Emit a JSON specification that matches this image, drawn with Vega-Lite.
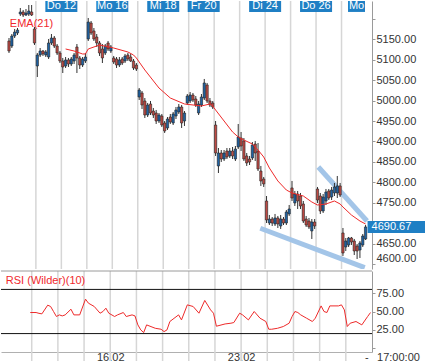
{
"$schema": "https://vega.github.io/schema/vega-lite/v6.json",
"padding": 0,
"background": "white",
"spacing": 0,
"config": {"view": {"stroke": null}, "font": "Liberation Sans", "axis": {"labelFontSize": 11, "labelColor": "#333333", "domainColor": "#9a9a9a", "tickColor": "#9a9a9a", "grid": false, "labelOverlap": false}},
"resolve": {"scale": {"x": "independent", "y": "independent"}},
"datasets": {
"candles": [
{"i":-1,"o":5145.9,"h":5153.2,"l":5116.5,"c":5121.4},
{"i":0,"o":5133.6,"h":5163.0,"l":5128.7,"c":5158.1},
{"i":1,"o":5158.1,"h":5175.3,"l":5153.2,"c":5167.9},
{"i":2,"o":5165.5,"h":5177.7,"l":5160.6,"c":5172.8},
{"i":3,"o":5212.0,"h":5226.7,"l":5207.1,"c":5216.9},
{"i":4,"o":5216.9,"h":5221.8,"l":5204.6,"c":5209.5},
{"i":5,"o":5209.5,"h":5224.2,"l":5207.1,"c":5214.4},
{"i":6,"o":5212.0,"h":5234.0,"l":5207.1,"c":5219.3},
{"i":7,"o":5216.9,"h":5234.0,"l":5207.1,"c":5209.5},
{"i":8,"o":5175.3,"h":5180.2,"l":5136.1,"c":5141.0},
{"i":9,"o":5084.7,"h":5116.5,"l":5057.7,"c":5111.6},
{"i":10,"o":5111.6,"h":5128.7,"l":5106.7,"c":5121.4},
{"i":11,"o":5121.4,"h":5123.8,"l":5109.2,"c":5114.1},
{"i":12,"o":5111.6,"h":5123.8,"l":5106.7,"c":5119.0},
{"i":13,"o":5106.7,"h":5150.8,"l":5101.8,"c":5141.0},
{"i":14,"o":5141.0,"h":5163.0,"l":5136.1,"c":5153.2},
{"i":15,"o":5153.2,"h":5158.1,"l":5128.7,"c":5133.6},
{"i":16,"o":5133.6,"h":5138.5,"l":5111.6,"c":5116.5},
{"i":17,"o":5116.5,"h":5121.4,"l":5092.0,"c":5096.9},
{"i":18,"o":5096.9,"h":5104.3,"l":5067.5,"c":5082.2},
{"i":19,"o":5084.7,"h":5106.7,"l":5079.8,"c":5099.4},
{"i":20,"o":5099.4,"h":5104.3,"l":5082.2,"c":5089.6},
{"i":21,"o":5089.6,"h":5106.7,"l":5084.7,"c":5101.8},
{"i":22,"o":5096.9,"h":5116.5,"l":5089.6,"c":5111.6},
{"i":23,"o":5131.2,"h":5138.5,"l":5067.5,"c":5104.3},
{"i":24,"o":5104.3,"h":5109.2,"l":5077.3,"c":5087.1},
{"i":25,"o":5087.1,"h":5106.7,"l":5082.2,"c":5101.8},
{"i":26,"o":5096.9,"h":5116.5,"l":5092.0,"c":5106.7},
{"i":27,"o":5150.8,"h":5202.2,"l":5145.9,"c":5192.4},
{"i":28,"o":5189.9,"h":5194.8,"l":5160.6,"c":5165.5},
{"i":29,"o":5170.4,"h":5177.7,"l":5145.9,"c":5150.8},
{"i":30,"o":5155.7,"h":5163.0,"l":5131.2,"c":5141.0},
{"i":31,"o":5141.0,"h":5145.9,"l":5109.2,"c":5116.5},
{"i":32,"o":5126.3,"h":5138.5,"l":5092.0,"c":5104.3},
{"i":33,"o":5116.5,"h":5138.5,"l":5111.6,"c":5133.6},
{"i":34,"o":5141.0,"h":5145.9,"l":5121.4,"c":5126.3},
{"i":35,"o":5121.4,"h":5136.1,"l":5116.5,"c":5131.2},
{"i":36,"o":5104.3,"h":5109.2,"l":5089.6,"c":5094.5},
{"i":37,"o":5101.8,"h":5106.7,"l":5079.8,"c":5087.1},
{"i":38,"o":5087.1,"h":5106.7,"l":5082.2,"c":5099.4},
{"i":39,"o":5101.8,"h":5106.7,"l":5087.1,"c":5092.0},
{"i":40,"o":5096.9,"h":5114.1,"l":5092.0,"c":5109.2},
{"i":41,"o":5111.6,"h":5116.5,"l":5096.9,"c":5101.8},
{"i":42,"o":5106.7,"h":5114.1,"l":5094.5,"c":5096.9},
{"i":43,"o":5096.9,"h":5101.8,"l":5074.9,"c":5079.8},
{"i":44,"o":5087.1,"h":5092.0,"l":5072.4,"c":5077.3},
{"i":45,"o":5008.8,"h":5030.8,"l":5001.4,"c":5025.9},
{"i":46,"o":5018.6,"h":5023.5,"l":4979.4,"c":4989.2},
{"i":47,"o":4999.0,"h":5006.3,"l":4957.4,"c":4964.7},
{"i":48,"o":4964.7,"h":4994.1,"l":4959.8,"c":4989.2},
{"i":49,"o":4991.7,"h":4999.0,"l":4964.7,"c":4969.6},
{"i":50,"o":4974.5,"h":4981.9,"l":4957.4,"c":4964.7},
{"i":51,"o":4969.6,"h":4977.0,"l":4942.7,"c":4950.0},
{"i":52,"o":4950.0,"h":4969.6,"l":4945.1,"c":4964.7},
{"i":53,"o":4962.3,"h":4967.2,"l":4935.4,"c":4940.2},
{"i":54,"o":4945.1,"h":4950.0,"l":4920.7,"c":4925.6},
{"i":55,"o":4932.9,"h":4959.8,"l":4928.0,"c":4954.9},
{"i":56,"o":4959.8,"h":4967.2,"l":4942.7,"c":4947.6},
{"i":57,"o":4945.1,"h":4972.1,"l":4940.2,"c":4967.2},
{"i":58,"o":4962.3,"h":4984.3,"l":4954.9,"c":4977.0},
{"i":59,"o":4972.1,"h":4991.7,"l":4967.2,"c":4984.3},
{"i":60,"o":4984.3,"h":4989.2,"l":4932.9,"c":4945.1},
{"i":61,"o":4950.0,"h":4974.5,"l":4937.8,"c":4969.6},
{"i":62,"o":4994.1,"h":5016.1,"l":4989.2,"c":5011.2},
{"i":63,"o":4999.0,"h":5021.0,"l":4994.1,"c":5013.7},
{"i":64,"o":5013.7,"h":5018.6,"l":4996.6,"c":5001.4},
{"i":65,"o":5003.9,"h":5011.2,"l":4984.3,"c":4989.2},
{"i":66,"o":4969.6,"h":4999.0,"l":4964.7,"c":4991.7},
{"i":67,"o":4989.2,"h":5016.1,"l":4984.3,"c":5008.8},
{"i":68,"o":5006.3,"h":5052.9,"l":5001.4,"c":5043.1},
{"i":69,"o":5038.2,"h":5043.1,"l":4994.1,"c":4999.0},
{"i":70,"o":4999.0,"h":5006.3,"l":4984.3,"c":4989.2},
{"i":71,"o":4994.1,"h":4999.0,"l":4979.4,"c":4984.3},
{"i":72,"o":4940.2,"h":4950.0,"l":4864.4,"c":4871.7},
{"i":73,"o":4839.9,"h":4883.9,"l":4822.7,"c":4871.7},
{"i":74,"o":4871.7,"h":4879.0,"l":4849.7,"c":4857.0},
{"i":75,"o":4857.0,"h":4879.0,"l":4852.1,"c":4871.7},
{"i":76,"o":4876.6,"h":4883.9,"l":4857.0,"c":4861.9},
{"i":77,"o":4864.4,"h":4883.9,"l":4859.5,"c":4876.6},
{"i":78,"o":4876.6,"h":4886.4,"l":4857.0,"c":4864.4},
{"i":79,"o":4857.0,"h":4888.8,"l":4852.1,"c":4881.5},
{"i":80,"o":4886.4,"h":4942.7,"l":4881.5,"c":4910.9},
{"i":81,"o":4908.4,"h":4923.1,"l":4876.6,"c":4888.8},
{"i":82,"o":4901.1,"h":4908.4,"l":4852.1,"c":4857.0},
{"i":83,"o":4864.4,"h":4871.7,"l":4839.9,"c":4847.2},
{"i":84,"o":4857.0,"h":4864.4,"l":4842.3,"c":4849.7},
{"i":85,"o":4859.5,"h":4898.6,"l":4854.6,"c":4891.3},
{"i":86,"o":4893.7,"h":4901.1,"l":4852.1,"c":4871.7},
{"i":87,"o":4876.6,"h":4896.2,"l":4827.6,"c":4832.5},
{"i":88,"o":4827.6,"h":4839.9,"l":4791.0,"c":4803.2},
{"i":89,"o":4808.1,"h":4813.0,"l":4788.5,"c":4795.9},
{"i":90,"o":4754.2,"h":4766.4,"l":4700.3,"c":4707.7},
{"i":91,"o":4700.3,"h":4719.9,"l":4695.4,"c":4710.1},
{"i":92,"o":4710.1,"h":4715.0,"l":4693.0,"c":4700.3},
{"i":93,"o":4697.9,"h":4722.4,"l":4693.0,"c":4712.6},
{"i":94,"o":4712.6,"h":4717.5,"l":4688.1,"c":4697.9},
{"i":95,"o":4693.0,"h":4719.9,"l":4685.7,"c":4710.1},
{"i":96,"o":4710.1,"h":4715.0,"l":4695.4,"c":4700.3},
{"i":97,"o":4700.3,"h":4732.2,"l":4695.4,"c":4727.3},
{"i":98,"o":4722.4,"h":4744.4,"l":4717.5,"c":4734.6},
{"i":99,"o":4786.1,"h":4803.2,"l":4754.2,"c":4761.5},
{"i":100,"o":4749.3,"h":4778.7,"l":4742.0,"c":4771.3},
{"i":101,"o":4771.3,"h":4778.7,"l":4734.6,"c":4754.2},
{"i":102,"o":4766.4,"h":4773.8,"l":4734.6,"c":4742.0},
{"i":103,"o":4746.9,"h":4754.2,"l":4700.3,"c":4705.2},
{"i":104,"o":4710.1,"h":4717.5,"l":4690.6,"c":4695.4},
{"i":105,"o":4705.2,"h":4712.6,"l":4685.7,"c":4690.6},
{"i":106,"o":4680.8,"h":4710.1,"l":4661.2,"c":4702.8},
{"i":107,"o":4702.8,"h":4710.1,"l":4685.7,"c":4693.0},
{"i":108,"o":4783.6,"h":4788.5,"l":4749.3,"c":4756.6},
{"i":109,"o":4766.4,"h":4773.8,"l":4722.4,"c":4729.7},
{"i":110,"o":4729.7,"h":4771.3,"l":4724.8,"c":4764.0},
{"i":111,"o":4754.2,"h":4783.6,"l":4744.4,"c":4776.2},
{"i":112,"o":4778.7,"h":4783.6,"l":4756.6,"c":4761.5},
{"i":113,"o":4764.0,"h":4788.5,"l":4756.6,"c":4781.1},
{"i":114,"o":4773.8,"h":4798.3,"l":4766.4,"c":4788.5},
{"i":115,"o":4773.8,"h":4815.4,"l":4761.5,"c":4791.0},
{"i":116,"o":4791.0,"h":4798.3,"l":4764.0,"c":4768.9},
{"i":117,"o":4675.9,"h":4688.1,"l":4619.6,"c":4626.9},
{"i":118,"o":4641.6,"h":4663.6,"l":4631.8,"c":4656.3},
{"i":119,"o":4646.5,"h":4666.1,"l":4641.6,"c":4663.6},
{"i":120,"o":4663.6,"h":4666.1,"l":4646.5,"c":4653.8},
{"i":121,"o":4656.3,"h":4661.2,"l":4622.0,"c":4631.8},
{"i":122,"o":4644.0,"h":4648.9,"l":4612.2,"c":4631.8},
{"i":123,"o":4634.2,"h":4656.3,"l":4614.7,"c":4651.4},
{"i":124,"o":4646.5,"h":4673.4,"l":4641.6,"c":4668.5},
{"i":125,"o":4661.2,"h":4695.4,"l":4658.7,"c":4690.67}
],
"ema": [
{"i":19,"v":5126.3},{"i":22,"v":5121.4},{"i":25,"v":5114.1},{"i":26,"v":5114.1},{"i":27,"v":5126.3},{"i":31,"v":5136.1},{"i":36,"v":5128.7},{"i":41,"v":5119.0},{"i":43,"v":5111.6},{"i":44,"v":5104.3},{"i":47,"v":5074.9},{"i":52,"v":5030.8},{"i":56,"v":5006.3},{"i":61,"v":4991.7},{"i":67,"v":4986.8},{"i":70,"v":4991.7},{"i":71,"v":4986.8},{"i":72,"v":4977.0},{"i":75,"v":4950.0},{"i":78,"v":4923.1},{"i":80,"v":4910.9},{"i":82,"v":4903.5},{"i":85,"v":4893.7},{"i":87,"v":4879.0},{"i":89,"v":4861.9},{"i":91,"v":4835.0},{"i":94,"v":4803.2},{"i":97,"v":4781.1},{"i":99,"v":4773.8},{"i":103,"v":4766.4},{"i":106,"v":4751.7},{"i":108,"v":4744.4},{"i":111,"v":4746.9},{"i":114,"v":4754.2},{"i":116,"v":4746.9},{"i":117,"v":4739.5},{"i":120,"v":4719.9},{"i":123,"v":4705.2},{"i":125,"v":4697.9}
],
"rsi": [
{"i":8,"v":48.6},{"i":10,"v":48.6},{"i":11,"v":47.5},{"i":12,"v":46.8},{"i":14,"v":58.6},{"i":15,"v":56.8},{"i":16,"v":50},{"i":17,"v":43.2},{"i":18,"v":45.4},{"i":19,"v":44},{"i":20,"v":45.4},{"i":22,"v":53.1},{"i":23,"v":45.4},{"i":25,"v":45.4},{"i":27,"v":66.8},{"i":28,"v":61.3},{"i":30,"v":56.8},{"i":32,"v":47.7},{"i":33,"v":50},{"i":34,"v":54.5},{"i":35,"v":47.7},{"i":37,"v":43.2},{"i":38,"v":45.4},{"i":40,"v":48.6},{"i":41,"v":43.2},{"i":43,"v":45.4},{"i":44,"v":44},{"i":45,"v":31.8},{"i":46,"v":25},{"i":47,"v":21.4},{"i":48,"v":31.8},{"i":51,"v":27.2},{"i":53,"v":25.9},{"i":54,"v":22.7},{"i":55,"v":25},{"i":56,"v":36.4},{"i":59,"v":45.4},{"i":60,"v":38.6},{"i":62,"v":59},{"i":64,"v":56.8},{"i":66,"v":47.7},{"i":68,"v":65},{"i":70,"v":52.2},{"i":71,"v":47.7},{"i":72,"v":30},{"i":75,"v":33.1},{"i":77,"v":34.1},{"i":78,"v":35},{"i":80,"v":47.7},{"i":81,"v":45.4},{"i":83,"v":38.6},{"i":85,"v":50},{"i":87,"v":40.9},{"i":89,"v":36.4},{"i":90,"v":25.9},{"i":91,"v":25.9},{"i":93,"v":27.2},{"i":95,"v":29.6},{"i":97,"v":34.1},{"i":98,"v":43},{"i":99,"v":50},{"i":100,"v":48.6},{"i":101,"v":45.4},{"i":103,"v":40.9},{"i":105,"v":36.4},{"i":106,"v":40.9},{"i":108,"v":57.6},{"i":109,"v":50},{"i":110,"v":48.6},{"i":111,"v":57.6},{"i":114,"v":57.6},{"i":115,"v":59},{"i":116,"v":52.2},{"i":117,"v":29.6},{"i":118,"v":34.1},{"i":120,"v":36.4},{"i":122,"v":31.8},{"i":124,"v":43.2},{"i":125,"v":48.6}
],
"days": [{"i":8.5},{"i":17.5},{"i":26.5},{"i":35.5},{"i":44.5},{"i":53.5},{"i":62.5},{"i":71.5},{"i":80.5},{"i":89.5},{"i":98.5},{"i":107.5},{"i":116.5}],
"daylabels": [{"lab":"Do 12","i":17.5},{"lab":"Mo 16","i":35.5},{"lab":"Mi 18","i":53.5},{"lab":"Fr 20","i":67.8},{"lab":"Di 24","i":89.5},{"lab":"Do 26","i":107.5},{"lab":"Mo","i":121.8}],
"trend": [{"i":108.3,"p":4837.4,"i2":125.5,"p2":4705.2},{"i":87.8,"p":4687.4,"i2":124.7,"p2":4590.9}],
"bands": [{"v":20},{"v":80}]
},
"vconcat": [
{
"width": 371, "height": 268,
"resolve": {"axis": {"x": "independent", "y": "independent"}},
"layer": [
{"data": {"name": "days"}, "mark": {"type": "rule", "color": "#d6d6d6", "strokeWidth": 1.5},
 "encoding": {"x": {"field": "i", "type": "quantitative", "scale": {"domain": [-2.06, 125.5], "nice": false, "zero": false}, "axis": null}}},
{"data": {"name": "trend"}, "mark": {"type": "rule", "color": "#a3c5e8", "strokeWidth": 5, "clip": true},
 "encoding": {"x": {"field": "i", "type": "quantitative", "axis": null}, "x2": {"field": "i2"},
  "y": {"field": "p", "type": "quantitative", "scale": {"domain": [4587.7, 5243.8], "nice": false, "zero": false}, "axis": {"orient": "right", "title": null, "values": [4600,4650,4700,4750,4800,4850,4900,4950,5000,5050,5100,5150,5200], "format": ".2f", "labelExpr": "datum.value == 5200 || datum.value == 4700 ? '' : datum.label", "labelFlush": 8, "labelOverlap": false, "tickSize": 3, "labelPadding": 1}},
  "y2": {"field": "p2"}}},
{"data": {"name": "candles"}, "mark": {"type": "rule", "color": "#333333", "strokeWidth": 1},
 "encoding": {"x": {"field": "i", "type": "quantitative", "axis": null}, "y": {"field": "l", "type": "quantitative", "axis": null}, "y2": {"field": "h"}}},
{"data": {"name": "candles"}, "mark": {"type": "bar", "width": 2.3, "stroke": "#222222", "strokeWidth": 0.6},
 "encoding": {"x": {"field": "i", "type": "quantitative", "axis": null}, "y": {"field": "o", "type": "quantitative", "axis": null}, "y2": {"field": "c"},
  "fill": {"condition": {"test": "datum.c >= datum.o", "value": "#1f62a3"}, "value": "#bf4a44"}}},
{"data": {"name": "ema"}, "mark": {"type": "line", "color": "#ee2a2a", "strokeWidth": 1},
 "encoding": {"x": {"field": "i", "type": "quantitative", "axis": null}, "y": {"field": "v", "type": "quantitative", "axis": null}}},
{"data": {"values": [{"t": "EMA(21)"}]}, "mark": {"type": "text", "align": "left", "baseline": "middle", "fontSize": 11, "color": "#f0282d"},
 "encoding": {"x": {"datum": -0.7, "type": "quantitative", "axis": null}, "y": {"datum": 5187.5, "type": "quantitative", "axis": null}, "text": {"field": "t"}}},
{"data": {"name": "daylabels"}, "transform": [{"filter": "datum.lab != 'Mo'"}], "mark": {"type": "bar", "width": 32, "color": "#1f7fc4"},
 "encoding": {"x": {"field": "i", "type": "quantitative", "axis": null}, "y": {"datum": 5243.8, "type": "quantitative", "axis": null}, "y2": {"datum": 5217}}},
{"data": {"name": "daylabels"}, "transform": [{"filter": "datum.lab == 'Mo'"}], "mark": {"type": "bar", "width": 17, "color": "#1f7fc4"},
 "encoding": {"x": {"field": "i", "type": "quantitative", "axis": null}, "y": {"datum": 5243.8, "type": "quantitative", "axis": null}, "y2": {"datum": 5217}}},
{"data": {"name": "daylabels"}, "mark": {"type": "text", "baseline": "middle", "fontSize": 11, "color": "white"},
 "encoding": {"x": {"field": "i", "type": "quantitative", "axis": null}, "y": {"datum": 5230.4, "type": "quantitative", "axis": null}, "text": {"field": "lab"}}},
{"data": {"values": [{"t": "4690.67"}]}, "mark": {"type": "rect", "color": "#1f7fc4"},
 "encoding": {"x": {"datum": 125.7, "type": "quantitative", "axis": null}, "x2": {"datum": 146}, "y": {"datum": 4705.3, "type": "quantitative", "axis": null}, "y2": {"datum": 4676}}},
{"data": {"values": [{"t": "4690.67"}]}, "mark": {"type": "text", "align": "left", "baseline": "middle", "fontSize": 11, "color": "white"},
 "encoding": {"x": {"datum": 127.1, "type": "quantitative", "axis": null}, "y": {"datum": 4690.67, "type": "quantitative", "axis": null}, "text": {"field": "t"}}}
]
},
{
"width": 371, "height": 81,
"resolve": {"axis": {"x": "independent", "y": "independent"}},
"layer": [
{"data": {"name": "days"}, "mark": {"type": "rule", "color": "#d6d6d6", "strokeWidth": 1.5},
 "encoding": {"x": {"field": "i", "type": "quantitative", "scale": {"domain": [-2.06, 125.5], "nice": false, "zero": false}, "axis": {"orient": "bottom", "title": null, "values": [35.5, 80.5], "labelExpr": "datum.value == 35.5 ? '16.02' : '23.02'", "tickSize": 13, "tickColor": "#d6d6d6", "tickWidth": 1.5, "labelPadding": -7.5, "labelBaseline": "middle", "labelOverlap": false, "labelFlush": false, "domainColor": "#b0b0b0"}},
  "y": {"datum": 105, "type": "quantitative", "axis": null}, "y2": {"datum": -22}}},
{"data": {"name": "bands"}, "mark": {"type": "rule", "color": "#111111", "strokeWidth": 1},
 "encoding": {"y": {"field": "v", "type": "quantitative", "scale": {"domain": [-5, 105], "nice": false, "zero": false}, "axis": {"orient": "right", "title": null, "values": [0,25,50,75], "format": ".2f", "labelExpr": "datum.value == 0 ? '' : datum.label", "labelOverlap": false, "tickSize": 3, "labelPadding": 1}}}},
{"data": {"values": [{"v": 105}]}, "mark": {"type": "rule", "color": "#9a9a9a", "strokeWidth": 1},
 "encoding": {"y": {"field": "v", "type": "quantitative", "axis": null}}},
{"data": {"name": "rsi"}, "mark": {"type": "line", "color": "#ee2a2a", "strokeWidth": 1},
 "encoding": {"x": {"field": "i", "type": "quantitative", "axis": null}, "y": {"field": "v", "type": "quantitative", "axis": null}}},
{"data": {"values": [{"t": "RSI (Wilder)(10)"}]}, "mark": {"type": "text", "align": "left", "baseline": "middle", "fontSize": 11, "color": "#f0282d"},
 "encoding": {"x": {"datum": -0.4, "type": "quantitative", "axis": null}, "y": {"datum": 91.3, "type": "quantitative", "axis": null}, "text": {"field": "t"}}},
{"data": {"values": [{"t": "-", "i": 123.7}, {"t": "17:00:00", "i": 134.6}]}, "mark": {"type": "text", "baseline": "middle", "fontSize": 11, "color": "#333333"},
 "encoding": {"x": {"field": "i", "type": "quantitative", "axis": null}, "y": {"datum": -12.8, "type": "quantitative", "axis": null}, "text": {"field": "t"}}}
]
}
]
}
